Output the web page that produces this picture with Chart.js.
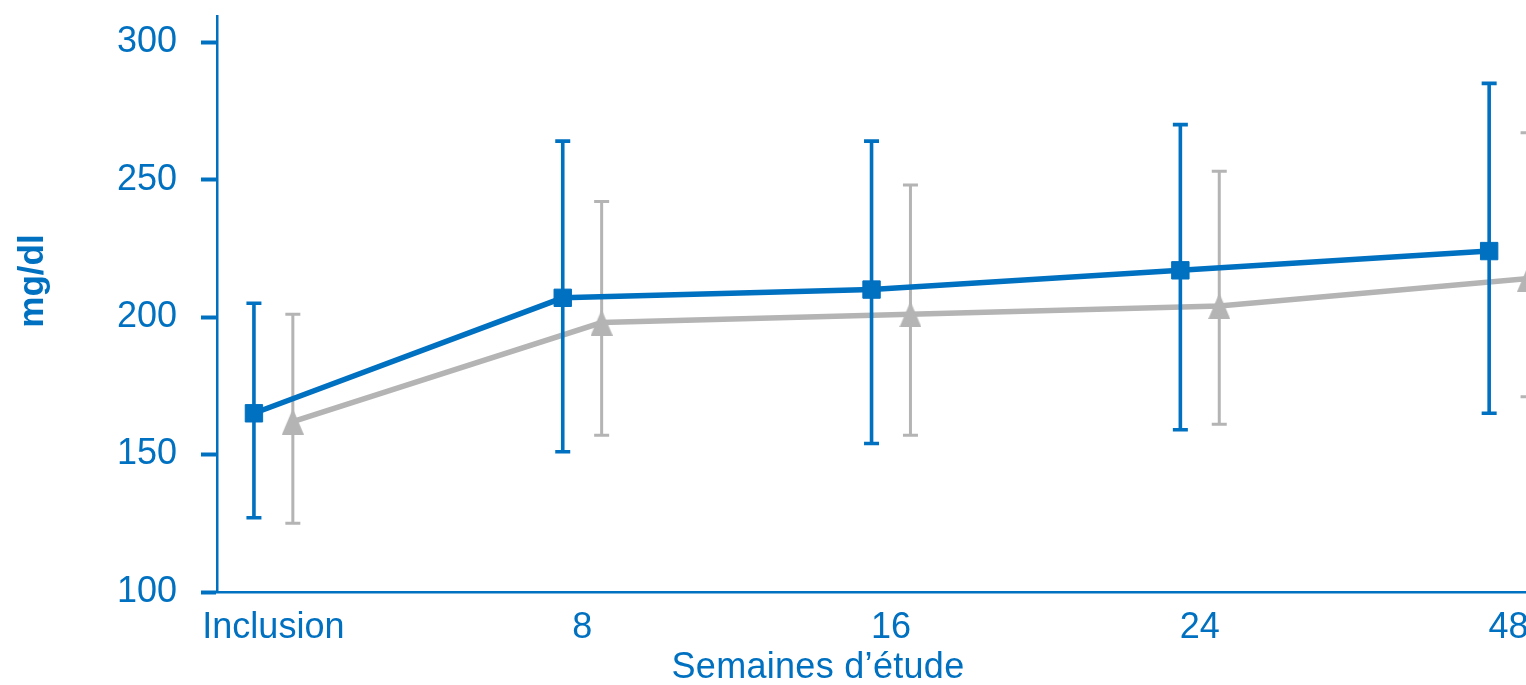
<!DOCTYPE html>
<html>
<head>
<meta charset="utf-8">
<script src="https://cdn.jsdelivr.net/npm/chart.js@4/dist/chart.umd.min.js"></script>
<style>
  html, body { margin: 0; padding: 0; background: #fff; overflow: hidden; }
  #wrap { width: 1526px; height: 685px; position: relative; }
</style>
</head>
<body>
<div id="wrap"><canvas id="c"></canvas></div>
<script>
// Study visits (weeks) and y-axis tick values
const categories = ['Inclusion', '8', '16', '24', '48'];
const yTickValues = [100, 150, 200, 250, 300];

// Blue series: mean with lower / upper bounds (mg/dl)
const blueMean = [165, 207, 210, 217, 224];
const blueLow  = [127, 151, 154, 159, 165];
const blueHigh = [205, 264, 264, 270, 285];

// Grey series: mean with lower / upper bounds (mg/dl)
const greyMean = [162, 198, 201, 204, 214];
const greyLow  = [125, 157, 157, 161, 171];
const greyHigh = [201, 242, 248, 253, 267];

const BLUE = '#0070C0';
const GREY = '#B4B4B4';
const FONT = '"Liberation Sans", Arial, Helvetica, sans-serif';
const SHIFT = 0.063;      // side-by-side offset of the two series within a visit
const CAP = 7.5;          // half width of error-bar caps

function triangleSprite(w, h, color) {
  const c = document.createElement('canvas');
  c.width = w; c.height = h;
  const g = c.getContext('2d');
  g.fillStyle = color;
  g.beginPath();
  g.moveTo(w / 2, 0);
  g.lineTo(w, h);
  g.lineTo(0, h);
  g.closePath();
  g.fill();
  return c;
}

const toPoints = (vals, shift) => vals.map((v, i) => ({ x: i + shift, y: v }));

// Error bars drawn just before each dataset, so stacking follows dataset order
const errorBars = {
  id: 'errorBars',
  beforeDatasetDraw(chart, args) {
    const ds = chart.data.datasets[args.index];
    const xs = chart.scales.x, ys = chart.scales.y, ctx = chart.ctx;
    ctx.save();
    ctx.strokeStyle = ds.errColor;
    ctx.lineWidth = ds.errWidth;
    ctx.lineCap = 'butt';
    ds.data.forEach((p, i) => {
      const px = xs.getPixelForValue(p.x);
      const top = ys.getPixelForValue(ds.errHigh[i]);
      const bot = ys.getPixelForValue(ds.errLow[i]);
      ctx.beginPath();
      ctx.moveTo(px, top); ctx.lineTo(px, bot);
      ctx.moveTo(px - CAP, top); ctx.lineTo(px + CAP, top);
      ctx.moveTo(px - CAP, bot); ctx.lineTo(px + CAP, bot);
      ctx.stroke();
    });
    ctx.restore();
  }
};

// Axis titles
const axisTitles = {
  id: 'axisTitles',
  afterDraw(chart) {
    const ctx = chart.ctx, a = chart.chartArea;
    ctx.save();
    ctx.fillStyle = BLUE;
    ctx.textAlign = 'center';
    ctx.textBaseline = 'alphabetic';
    ctx.font = `36px ${FONT}`;
    ctx.letterSpacing = '0.3px';
    ctx.fillText('Semaines d\u2019étude', a.left + 601, a.bottom + 86);
    ctx.letterSpacing = '0px';
    ctx.translate(43, (a.top + a.bottom) / 2 - 23);
    ctx.rotate(-Math.PI / 2);
    ctx.font = `bold 35px ${FONT}`;
    ctx.fillText('mg/dl', 0, 0);
    ctx.restore();
  }
};

new Chart(document.getElementById('c'), {
  type: 'line',
  data: {
    datasets: [
      {
        label: 'blue',
        data: toPoints(blueMean, -SHIFT),
        errLow: blueLow, errHigh: blueHigh, errColor: BLUE, errWidth: 3.6,
        borderColor: BLUE,
        borderWidth: 5.5,
        backgroundColor: BLUE,
        pointStyle: 'rect',
        pointRadius: 12.3,
        pointBorderWidth: 1,
        pointBackgroundColor: BLUE,
        pointBorderColor: BLUE,
        tension: 0,
        clip: false
      },
      {
        label: 'grey',
        data: toPoints(greyMean, SHIFT),
        errLow: greyLow, errHigh: greyHigh, errColor: GREY, errWidth: 3,
        borderColor: GREY,
        borderWidth: 5.5,
        backgroundColor: GREY,
        pointStyle: triangleSprite(22, 26, GREY),
        pointRadius: 12,
        tension: 0,
        clip: false
      }
    ]
  },
  options: {
    responsive: true,
    maintainAspectRatio: false,
    animation: false,
    layout: { autoPadding: false, padding: { top: 16, left: 0, right: 0, bottom: 0 } },
    plugins: { legend: { display: false }, tooltip: { enabled: false } },
    scales: {
      x: {
        type: 'linear',
        min: -0.1826,
        max: 4.0563,
        grid: { display: false, drawTicks: false },
        border: { display: true, color: BLUE, width: 2.5 },
        afterBuildTicks: s => { s.ticks = categories.map((_, i) => ({ value: i })); },
        afterFit: s => { s.height = 93; s.paddingLeft = 0; s.paddingRight = 0; },
        ticks: {
          autoSkip: false,
          maxRotation: 0,
          padding: 14,
          color: BLUE,
          font: { family: FONT, size: 36 },
          callback: v => categories[v]
        }
      },
      y: {
        min: 100,
        max: 309.5,
        afterBuildTicks: s => { s.ticks = yTickValues.map(v => ({ value: v })); },
        afterFit: s => { s.width = 217; s.paddingTop = 0; s.paddingBottom = 0; },
        grid: {
          display: true,
          drawOnChartArea: false,
          drawTicks: true,
          tickLength: 16,
          tickWidth: 4,
          tickColor: BLUE,
          color: BLUE
        },
        border: { display: true, color: BLUE, width: 2.5 },
        ticks: {
          padding: 24,
          color: BLUE,
          font: { family: FONT, size: 36 }
        }
      }
    }
  },
  plugins: [errorBars, axisTitles]
});
</script>
</body>
</html>
